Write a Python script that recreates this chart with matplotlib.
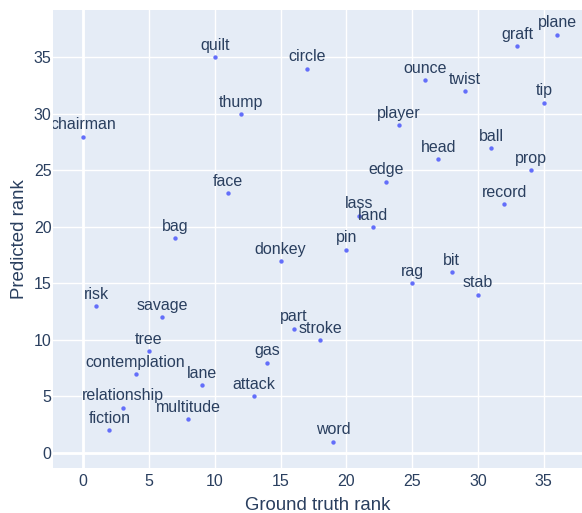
import matplotlib
matplotlib.use("Agg")
import matplotlib.pyplot as plt

plt.rcParams["font.family"] = ["Liberation Sans", "DejaVu Sans"]

words = ["chairman", "risk", "fiction", "relationship", "contemplation", "tree",
         "savage", "bag", "multitude", "lane", "quilt", "face", "thump", "attack",
         "gas", "donkey", "part", "circle", "stroke", "word", "pin", "lass", "land",
         "edge", "player", "rag", "ounce", "head", "bit", "twist", "stab", "ball",
         "record", "graft", "prop", "tip", "plane"]
truth_rank = list(range(37))
pred_rank = [28, 13, 2, 4, 7, 9, 12, 19, 3, 6, 35, 23, 30, 5, 8, 17, 11, 34, 10, 1,
             18, 21, 20, 24, 29, 15, 33, 26, 16, 32, 14, 27, 22, 36, 25, 31, 37]

TXT = "#2a3f5f"

fig = plt.figure(figsize=(5.82, 5.13), dpi=100)
ax = fig.add_axes([53 / 582, 45 / 513, 529 / 582, 458 / 513])
ax.set_facecolor("#E5ECF6")

ax.scatter(truth_rank, pred_rank, s=10, color="#636efa", zorder=3, linewidths=0)
for x, y, w in zip(truth_rank, pred_rank, words):
    ax.annotate(w, (x, y), xytext=(0, 5.3), textcoords="offset points",
                ha="center", va="baseline", fontsize=11.5, color=TXT,
                clip_on=True, zorder=4, annotation_clip=False)

ax.set_xlim(-2.28, 37.9)
ax.set_ylim(-1.33, 39.2)
ax.set_xticks(range(0, 36, 5))
ax.set_yticks(range(0, 36, 5))
ax.grid(True, color="white", linewidth=1.0, zorder=0)
ax.set_axisbelow(True)
ax.axhline(0, color="white", linewidth=2, zorder=1)
ax.axvline(0, color="white", linewidth=2, zorder=1)
for s in ax.spines.values():
    s.set_visible(False)
ax.tick_params(axis="both", length=0, labelsize=11.5, colors=TXT)
ax.tick_params(axis="y", pad=1)
ax.tick_params(axis="x", pad=4)
ax.set_xlabel("Ground truth rank", fontsize=13.4, color=TXT, labelpad=6)
ax.set_ylabel("Predicted rank", fontsize=13.4, color=TXT, labelpad=4)

fig.savefig("out.png", dpi=100)
